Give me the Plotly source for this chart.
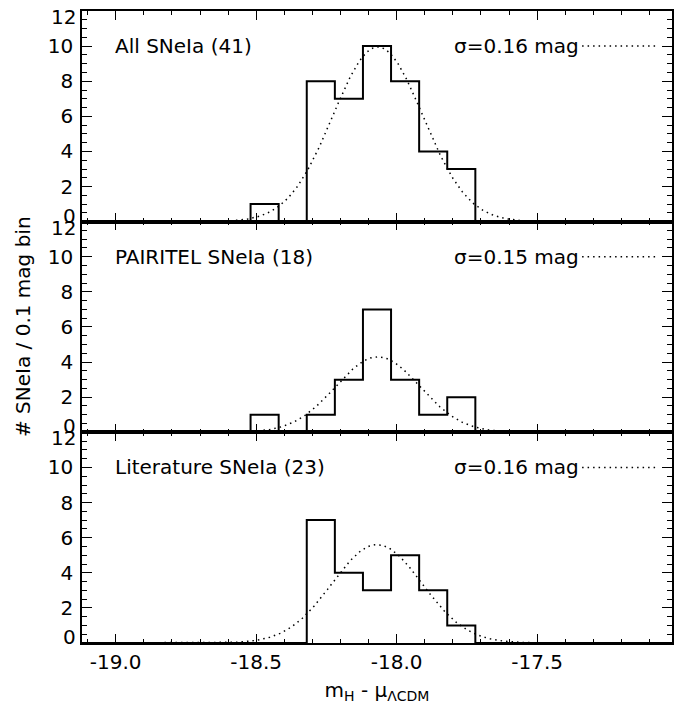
import numpy as np
import plotly.graph_objects as go
from plotly.subplots import make_subplots

# Histogram bins (centres, mag) and counts per sample
bin_centers = [-18.47, -18.37, -18.27, -18.17, -18.07, -17.97, -17.87, -17.77]
counts_all = [1, 0, 8, 7, 10, 8, 4, 3]
counts_pairitel = [1, 0, 1, 3, 7, 3, 1, 2]
counts_lit = [0, 0, 7, 4, 3, 5, 3, 1]

# Gaussian fit parameters per sample
fit_mean = [-18.067, -18.067, -18.07]
fit_sigma = [0.16, 0.15, 0.16]
fit_peak = [9.95, 4.3, 5.6]

panel_labels = ["All SNeIa (41)", "PAIRITEL SNeIa (18)", "Literature SNeIa (23)"]
sigma_labels = ["σ=0.16 mag", "σ=0.15 mag", "σ=0.16 mag"]

x_range = [-19.12, -17.02]
y_inner_ticks = [2, 4, 6, 8, 10]
x_major = [-19.0, -18.5, -18.0, -17.5]
x_major_text = ["-19.0", "-18.5", "-18.0", "-17.5"]

FONT = "DejaVu Sans"
FS = 20

fig = make_subplots(rows=3, cols=1, shared_xaxes=True, vertical_spacing=0)

all_counts = [counts_all, counts_pairitel, counts_lit]
bw = 0.1
for i, cnt in enumerate(all_counts):
    row = i + 1
    # pad with empty bins so the step line runs along the baseline
    n_left = int(round((bin_centers[0] - x_range[0]) / bw)) + 1
    n_right = int(round((x_range[1] - bin_centers[-1]) / bw)) + 1
    xs = ([bin_centers[0] - bw * k for k in range(n_left, 0, -1)] + list(bin_centers)
          + [bin_centers[-1] + bw * k for k in range(1, n_right + 1)])
    ys = [0] * n_left + list(cnt) + [0] * n_right
    fig.add_trace(go.Scatter(x=xs, y=ys, mode="lines", line=dict(shape="hvh", color="black", width=2),
                             showlegend=False, hoverinfo="skip"), row=row, col=1)
    xg = np.linspace(x_range[0], x_range[1], 400)
    yg = fit_peak[i] * np.exp(-0.5 * ((xg - fit_mean[i]) / fit_sigma[i]) ** 2)
    fig.add_trace(go.Scatter(x=xg, y=yg, mode="lines", line=dict(color="black", width=1.5, dash="1.5px,4px"),
                             showlegend=False, hoverinfo="skip"), row=row, col=1)

axis_common = dict(showline=True, linecolor="black", linewidth=1.5, mirror="allticks",
                   ticks="inside", tickcolor="black", showgrid=False, zeroline=False,
                   tickfont=dict(family=FONT, size=FS, color="black"))

for i in range(3):
    row = i + 1
    fig.update_xaxes(range=x_range, tickvals=x_major, ticktext=x_major_text, ticklen=9, tickwidth=1,
                     minor=dict(dtick=0.1, tick0=-19.0, ticklen=4, ticks="inside", tickcolor="black", showgrid=False),
                     showticklabels=(row == 3), row=row, col=1, **axis_common)
    fig.update_yaxes(range=[0, 12], tickvals=y_inner_ticks,
                     ticklen=10, tickwidth=1, ticklabelstandoff=3,
                     minor=dict(dtick=0.5, tick0=0, ticklen=5, ticks="inside", tickcolor="black", showgrid=False),
                     row=row, col=1, **axis_common)

fig.update_xaxes(title=dict(text="m<sub>H</sub> - μ<sub>ΛCDM</sub>", font=dict(family=FONT, size=FS, color="black"),
                            standoff=10), row=3, col=1)

annotations = []
yrefs = ["y", "y2", "y3"]
xrefs = ["x", "x2", "x3"]
for i in range(3):
    annotations.append(dict(x=-19.01, y=10, xref=xrefs[i], yref=yrefs[i], text=panel_labels[i],
                            showarrow=False, xanchor="left", yanchor="middle",
                            font=dict(family=FONT, size=FS, color="black")))
    annotations.append(dict(x=-17.345, y=10, xref=xrefs[i], yref=yrefs[i], text=sigma_labels[i],
                            showarrow=False, xanchor="right", yanchor="middle",
                            font=dict(family=FONT, size=FS, color="black")))
    # end labels of each panel's y axis, nudged inward so the stacked panels stay readable
    annotations.append(dict(x=0, y=0, xref="paper", yref=yrefs[i], text="0", showarrow=False,
                            xanchor="right", yanchor="middle", xshift=-4, yshift=6,
                            font=dict(family=FONT, size=FS, color="black")))
    annotations.append(dict(x=0, y=12, xref="paper", yref=yrefs[i], text="12", showarrow=False,
                            xanchor="right", yanchor="middle", xshift=-4, yshift=-6,
                            font=dict(family=FONT, size=FS, color="black")))

annotations.append(dict(x=-0.1, y=0.5, xref="paper", yref="paper", text="# SNeIa / 0.1 mag bin",
                        textangle=-90, showarrow=False, xanchor="center", yanchor="middle",
                        font=dict(family=FONT, size=FS, color="black")))

shapes = []
for i in range(3):
    shapes.append(dict(type="line", xref=xrefs[i], yref=yrefs[i], x0=-17.34, x1=-17.08, y0=10, y1=10,
                       line=dict(color="black", width=1.5, dash="1.5px,4px")))

fig.update_layout(width=683, height=707, margin=dict(l=82, r=10, t=9, b=64),
                  paper_bgcolor="white", plot_bgcolor="white",
                  annotations=annotations, shapes=shapes, showlegend=False)

fig.write_html("out.html")
